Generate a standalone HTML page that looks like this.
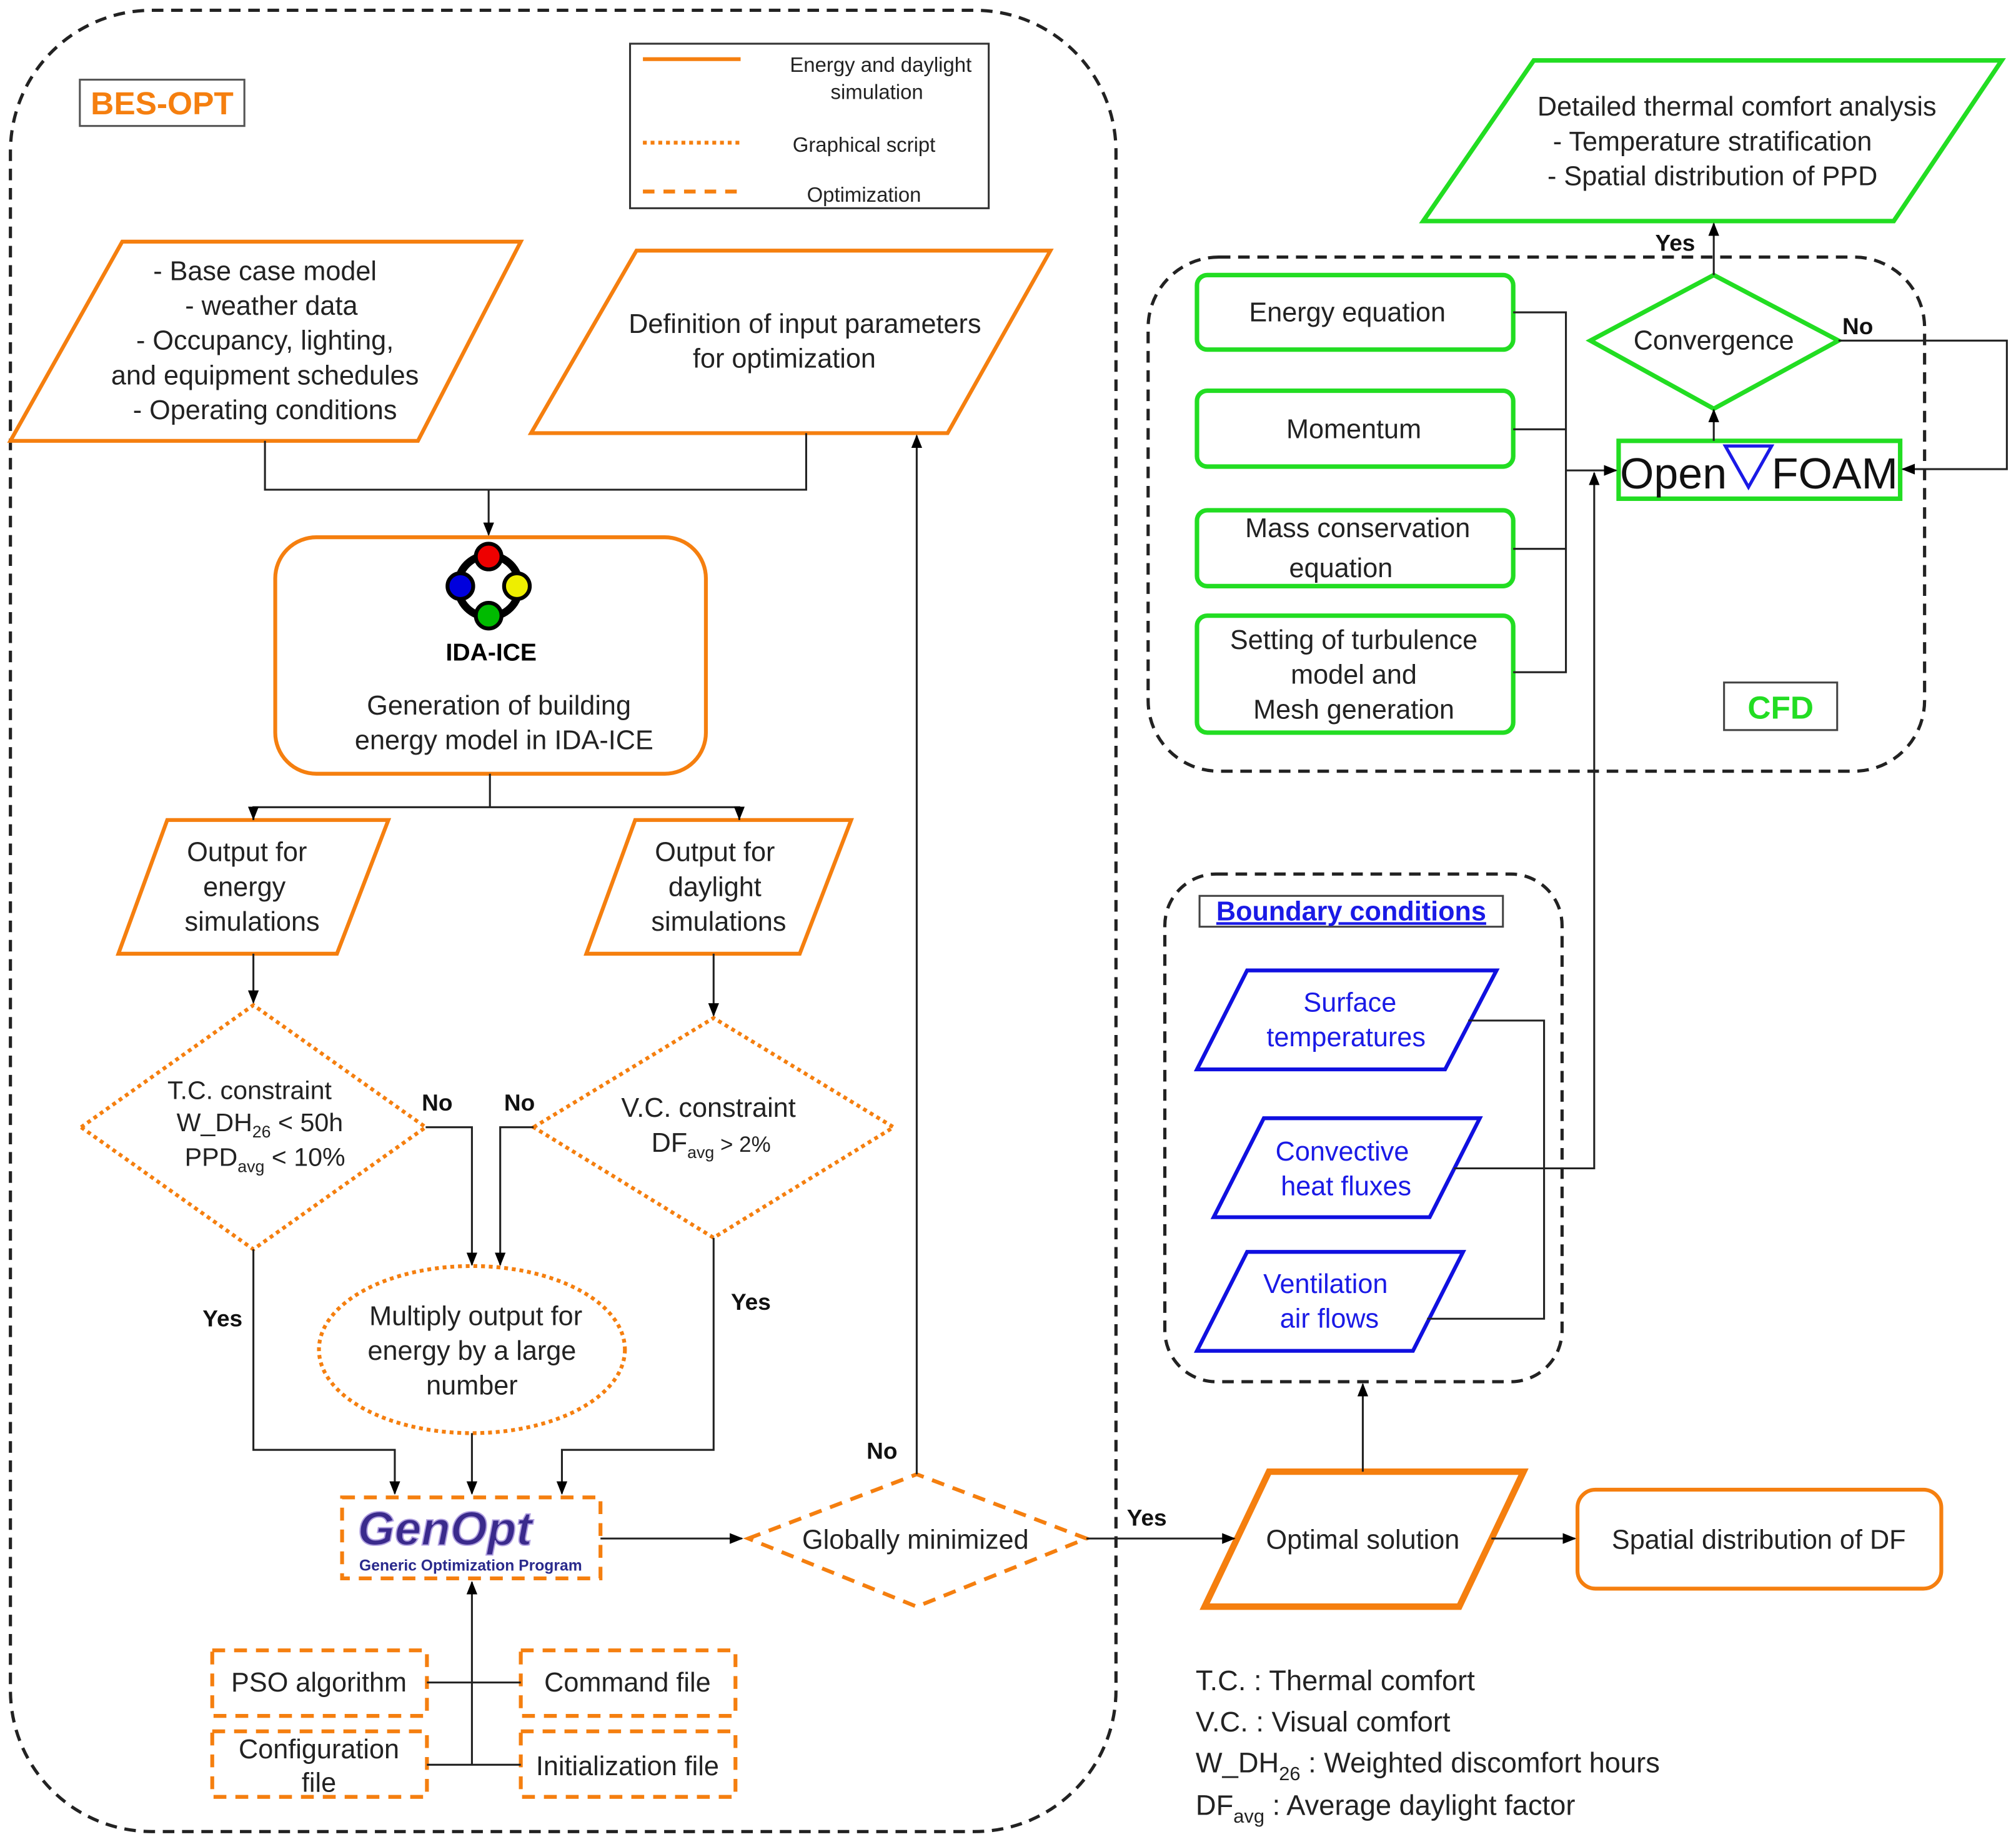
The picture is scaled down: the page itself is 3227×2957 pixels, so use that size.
<!DOCTYPE html>
<html><head><meta charset="utf-8"><style>
html,body{margin:0;padding:0;background:#fff}
svg{display:block}
text{font-family:"Liberation Sans",sans-serif}
</style></head><body>
<svg width="3227" height="2957" viewBox="0 0 1568 1437" xmlns="http://www.w3.org/2000/svg">
<defs>
<marker id="a" viewBox="0 0 10 10" refX="9" refY="5" markerWidth="7" markerHeight="7" orient="auto-start-reverse"><path d="M0,1 L10,5 L0,9 z" fill="#000"/></marker>
</defs>
<rect width="1568" height="1437" fill="#fff"/>
<!-- containers -->
<rect x="8" y="8" width="860" height="1417" rx="110" fill="none" stroke="#222" stroke-width="2.5" stroke-dasharray="9,6"/>
<rect x="893" y="200" width="604" height="400" rx="55" fill="none" stroke="#222" stroke-width="2.5" stroke-dasharray="9,6"/>
<rect x="906" y="680" width="309" height="395" rx="40" fill="none" stroke="#222" stroke-width="2.5" stroke-dasharray="9,6"/>

<!-- legend -->
<rect x="490" y="34" width="279" height="128" fill="#fff" stroke="#333" stroke-width="1.5"/>
<line x1="500" y1="46" x2="576" y2="46" stroke="#f57f0f" stroke-width="3"/>
<line x1="500" y1="111" x2="576" y2="111" stroke="#f57f0f" stroke-width="3" stroke-dasharray="3,3"/>
<line x1="500" y1="149" x2="576" y2="149" stroke="#f57f0f" stroke-width="3" stroke-dasharray="9,7"/>
<g font-size="16" fill="#222" text-anchor="middle">
<text x="685" y="56">Energy and daylight</text><text x="682" y="77">simulation</text>
<text x="672" y="118">Graphical script</text>
<text x="672" y="157">Optimization</text>
</g>

<!-- BES-OPT -->
<rect x="62" y="62" width="128" height="36" fill="#fff" stroke="#555" stroke-width="1.5"/>
<text x="126" y="89" font-size="25" font-weight="bold" fill="#f57f0f" text-anchor="middle">BES-OPT</text>

<g fill="#fff" stroke="#f57f0f" stroke-width="3">
<polygon points="8,343 95,188 405,188 325,343"/>
<polygon points="413,337 495,195 817,195 737,337"/>
<rect x="214" y="418" width="335" height="184" rx="32"/>
<polygon points="92,742 130,638 302,638 262,742"/>
<polygon points="456,742 494,638 662,638 622,742"/>
<polygon points="937,1250 987,1145 1185,1145 1135,1250" stroke-width="5"/>
<rect x="1227" y="1159" width="283" height="77" rx="14"/>
</g>
<g fill="#fff" stroke="#f57f0f" stroke-width="3" stroke-dasharray="3,3">
<polygon points="63,877 197,782 331,877 197,972"/>
<polygon points="415,877 555,792 695,877 555,963"/>
<ellipse cx="367" cy="1050" rx="119" ry="65"/>
</g>
<g fill="#fff" stroke="#f57f0f" stroke-width="3" stroke-dasharray="10,7">
<rect x="266" y="1165" width="201" height="63"/>
<polygon points="582,1197 713,1147 845,1197 713,1250"/>
<rect x="165" y="1284" width="167" height="51"/>
<rect x="405" y="1284" width="167" height="51"/>
<rect x="165" y="1347" width="167" height="51"/>
<rect x="405" y="1347" width="167" height="51"/>
</g>

<!-- connectors left -->
<g fill="none" stroke="#222" stroke-width="1.5">
<polyline points="206,343 206,381 627,381 627,337"/>
<line x1="380" y1="381" x2="380" y2="416" marker-end="url(#a)"/>
<polyline points="381,602 381,628"/>
<polyline points="197,638 197,628 575,628 575,638"/>
<line x1="197" y1="628" x2="197" y2="637" marker-end="url(#a)"/>
<line x1="575" y1="628" x2="575" y2="637" marker-end="url(#a)"/>
<line x1="197" y1="742" x2="197" y2="780" marker-end="url(#a)"/>
<line x1="555" y1="742" x2="555" y2="790" marker-end="url(#a)"/>
<polyline points="331,877 367,877 367,984" marker-end="url(#a)"/>
<polyline points="415,877 389,877 389,984" marker-end="url(#a)"/>
<polyline points="197,972 197,1128 307,1128 307,1162" marker-end="url(#a)"/>
<line x1="367" y1="1115" x2="367" y2="1162" marker-end="url(#a)"/>
<polyline points="555,963 555,1128 437,1128 437,1162" marker-end="url(#a)"/>
<line x1="467" y1="1197" x2="577" y2="1197" marker-end="url(#a)"/>
<polyline points="713,1147 713,339" marker-end="url(#a)"/>
<line x1="845" y1="1197" x2="960" y2="1197" marker-end="url(#a)"/>
<line x1="1160" y1="1197" x2="1225" y2="1197" marker-end="url(#a)"/>
<line x1="1060" y1="1145" x2="1060" y2="1077" marker-end="url(#a)"/>
<line x1="332" y1="1309" x2="405" y2="1309"/>
<line x1="332" y1="1373" x2="405" y2="1373"/>
<line x1="367" y1="1373" x2="367" y2="1231" marker-end="url(#a)"/>
</g>

<!-- IDA ICE icon -->
<g stroke="#000" stroke-width="3">
<circle cx="380" cy="456" r="24" fill="none" stroke-width="6"/>
<circle cx="380" cy="433" r="10" fill="#e00"/>
<circle cx="358" cy="456" r="10" fill="#00d"/>
<circle cx="402" cy="456" r="10" fill="#ee0"/>
<circle cx="380" cy="479" r="10" fill="#0b0"/>
</g>
<text x="382" y="514" font-size="19" font-weight="bold" font-family="Liberation Serif,serif" text-anchor="middle">IDA-ICE</text>

<g font-size="21" fill="#222" text-anchor="middle">
<text x="206" y="218">- Base case model</text>
<text x="211" y="245">- weather data</text>
<text x="206" y="272">- Occupancy, lighting,</text>
<text x="206" y="299">and equipment schedules</text>
<text x="206" y="326">- Operating conditions</text>
<text x="626" y="259">Definition of input parameters</text>
<text x="610" y="286">for optimization</text>
<text x="388" y="556">Generation of building</text>
<text x="392" y="583">energy model in IDA-ICE</text>
<text x="192" y="670">Output for</text><text x="190" y="697">energy</text><text x="196" y="724">simulations</text>
<text x="556" y="670">Output for</text><text x="556" y="697">daylight</text><text x="559" y="724">simulations</text>
<text x="194" y="855" font-size="20">T.C. constraint</text>
<text x="202" y="880" font-size="20">W_DH<tspan font-size="13" dy="5">26</tspan><tspan dy="-5"> &lt; 50h</tspan></text>
<text x="206" y="907" font-size="20">PPD<tspan font-size="13" dy="5">avg</tspan><tspan dy="-5"> &lt; 10%</tspan></text>
<text x="551" y="869">V.C. constraint</text>
<text x="553" y="896">DF<tspan font-size="13" dy="5">avg</tspan><tspan font-size="17" dy="-5"> &gt; 2%</tspan></text>
<text x="370" y="1031">Multiply output for</text>
<text x="367" y="1058">energy by a large</text>
<text x="367" y="1085">number</text>
<text x="712" y="1205">Globally minimized</text>
<text x="1060" y="1205">Optimal solution</text>
<text x="1368" y="1205">Spatial distribution of DF</text>
<text x="248" y="1316">PSO algorithm</text>
<text x="488" y="1316">Command file</text>
<text x="248" y="1368">Configuration</text><text x="248" y="1394">file</text>
<text x="488" y="1381">Initialization file</text>
</g>
<g font-size="18" font-weight="bold" fill="#111" text-anchor="middle">
<text x="340" y="864">No</text><text x="404" y="864">No</text>
<text x="173" y="1032">Yes</text><text x="584" y="1019">Yes</text>
<text x="686" y="1135">No</text><text x="892" y="1187">Yes</text>
<text x="1303" y="195">Yes</text><text x="1445" y="260">No</text>
</g>

<!-- GenOpt logo -->
<text x="346" y="1202" font-size="37" font-weight="bold" font-style="italic" fill="#3a2a8c" stroke="#b0a0e0" stroke-width="1" text-anchor="middle">GenOpt</text>
<text x="366" y="1222" font-size="12" font-weight="bold" fill="#2a2a8c" text-anchor="middle">Generic Optimization Program</text>

<!-- Boundary conditions -->
<rect x="933" y="697" width="236" height="24" fill="#fff" stroke="#444" stroke-width="1.5"/>
<text x="1051" y="716" font-size="21" font-weight="bold" fill="#1a1ae6" text-anchor="middle" text-decoration="underline">Boundary conditions</text>
<g fill="#fff" stroke="#1010e0" stroke-width="3">
<polygon points="931,832 970,755 1164,755 1124,832"/>
<polygon points="944,947 983,870 1151,870 1112,947"/>
<polygon points="931,1051 970,974 1138,974 1099,1051"/>
</g>
<g font-size="21" fill="#1a1ae6" text-anchor="middle">
<text x="1050" y="787">Surface</text><text x="1047" y="814">temperatures</text>
<text x="1044" y="903">Convective</text><text x="1047" y="930">heat fluxes</text>
<text x="1031" y="1006">Ventilation</text><text x="1034" y="1033">air flows</text>
</g>

<!-- CFD -->
<g fill="#fff" stroke="#22dd22" stroke-width="3.5">
<rect x="931" y="214" width="246" height="58" rx="8"/>
<rect x="931" y="304" width="246" height="59" rx="8"/>
<rect x="931" y="397" width="246" height="59" rx="8"/>
<rect x="931" y="479" width="246" height="91" rx="8"/>
<rect x="1259" y="343" width="219" height="45"/>
<polygon points="1237,265 1333,214 1430,265 1333,318"/>
<polygon points="1107,172 1193,47 1557,47 1473,172"/>
</g>
<rect x="1341" y="531" width="88" height="37" fill="#fff" stroke="#444" stroke-width="1.5"/>
<text x="1385" y="559" font-size="25" font-weight="bold" fill="#22dd22" text-anchor="middle">CFD</text>
<g fill="none" stroke="#222" stroke-width="1.5">
<polyline points="1177,243 1218,243 1218,523 1177,523"/>
<line x1="1177" y1="334" x2="1218" y2="334"/>
<line x1="1177" y1="427" x2="1218" y2="427"/>
<line x1="1218" y1="366" x2="1257" y2="366" marker-end="url(#a)"/>
<polyline points="1142,794 1201,794 1201,1026 1110,1026"/>
<polyline points="1131,909 1240,909 1240,368" marker-end="url(#a)"/>
<line x1="1333" y1="343" x2="1333" y2="319" marker-end="url(#a)"/>
<polyline points="1430,265 1561,265 1561,365 1480,365" marker-end="url(#a)"/>
<line x1="1333" y1="214" x2="1333" y2="174" marker-end="url(#a)"/>
</g>
<g font-size="21" fill="#222" text-anchor="middle">
<text x="1048" y="250">Energy equation</text>
<text x="1053" y="341">Momentum</text>
<text x="1056" y="418">Mass conservation</text><text x="1043" y="449">equation</text>
<text x="1053" y="505">Setting of turbulence</text><text x="1053" y="532">model and</text><text x="1053" y="559">Mesh generation</text>
<text x="1333" y="272">Convergence</text>
<text x="1351" y="90">Detailed thermal comfort analysis</text>
<text x="1332" y="117">- Temperature stratification</text>
<text x="1332" y="144">- Spatial distribution of PPD</text>
</g>
<text x="1260" y="380" font-size="34" fill="#111">Open</text>
<polygon points="1342,347 1378,347 1360,379" fill="none" stroke="#1a1ae6" stroke-width="2.5"/>
<text x="1378" y="380" font-size="34" fill="#111">FOAM</text>

<!-- abbreviations -->
<g font-size="22" fill="#222">
<text x="930" y="1315">T.C. : Thermal comfort</text>
<text x="930" y="1347">V.C. : Visual comfort</text>
<text x="930" y="1379">W_DH<tspan font-size="15" dy="6">26</tspan><tspan dy="-6"> : Weighted discomfort hours</tspan></text>
<text x="930" y="1412">DF<tspan font-size="15" dy="6">avg</tspan><tspan dy="-6"> : Average daylight factor</tspan></text>
</g>
</svg>
</body></html>
